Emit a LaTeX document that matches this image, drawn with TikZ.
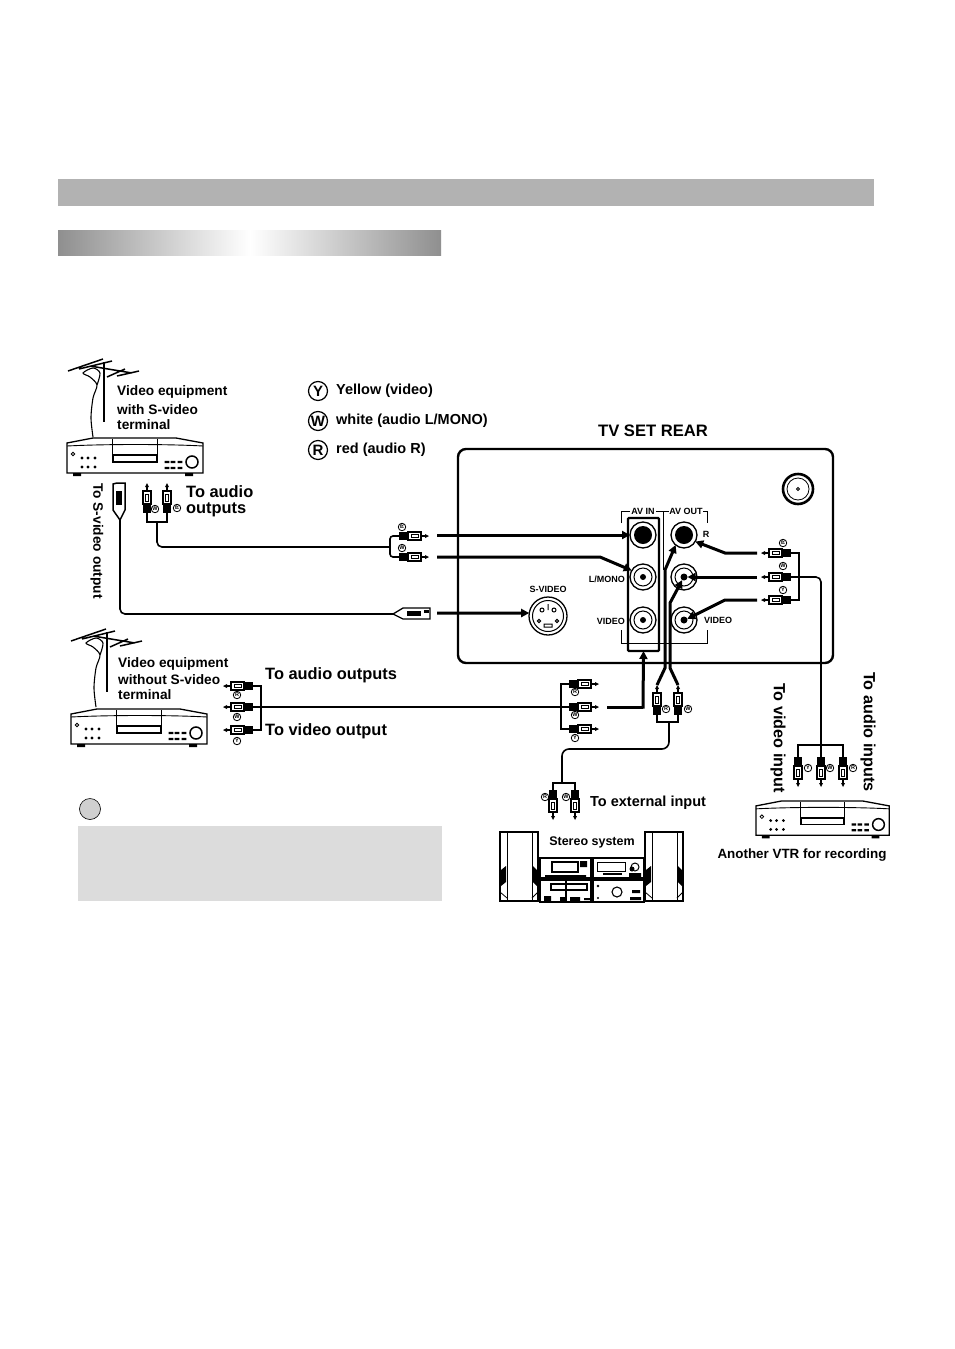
\documentclass[tikz,border=0pt]{standalone}
\usepackage{fontspec}
\setmainfont{Liberation Sans}
\usetikzlibrary{arrows.meta}
\definecolor{barg}{HTML}{B2B2B2}
\definecolor{gradg}{HTML}{8F8F8F}
\definecolor{noteg}{HTML}{DCDCDC}
\definecolor{dotg}{HTML}{D0D0D0}
\tikzset{
 lab/.style={inner sep=0pt,font=\bfseries\fontsize{13.7}{15}\selectfont,anchor=west},
 leg/.style={inner sep=0pt,font=\bfseries\fontsize{14.5}{16}\selectfont,anchor=west},
 big/.style={inner sep=0pt,font=\bfseries\fontsize{16.4}{18}\selectfont,anchor=west},
 mid/.style={inner sep=0pt,font=\bfseries\fontsize{16.2}{18}\selectfont,anchor=west},
 tiny/.style={inner sep=0pt,font=\bfseries\fontsize{9}{10}\selectfont},
 tag/.style={circle,draw,line width=.8pt,minimum size=7.5pt,inner sep=0pt,font=\bfseries\fontsize{5.5}{5.5}\selectfont},
 legend/.style={circle,draw,line width=1.2pt,minimum size=19pt,inner sep=0pt,font=\bfseries\fontsize{15}{15}\selectfont},
 jack/.style={circle,draw,line width=1.3pt,minimum size=26pt,inner sep=0pt,outer sep=0pt,fill=white},
 ring/.style={circle,draw,line width=1pt,minimum size=18pt,inner sep=0pt,outer sep=0pt},
 hole/.style={circle,fill=black,minimum size=6pt,inner sep=0pt,outer sep=0pt},
 plughole/.style={circle,fill=black,minimum size=18pt,inner sep=0pt,outer sep=0pt},
 wire/.style={line width=1.6pt,rounded corners=5pt},
 fat/.style={line width=3pt,-{Triangle[length=8pt,width=8pt]}},
 fatb/.style={line width=3pt,line join=miter},
 plug/.pic={
  \fill (0,0) -- (4,-2) -- (4,2) -- cycle;
  \fill (4,-1.3) rectangle (8,1.3);
  \draw[line width=1.2pt,fill=white] (8,-4) rectangle (21,4);
  \draw[line width=1pt] (11,-1.7) rectangle (18,1.7);
  \fill (21,-3.6) rectangle (30,3.6);
  \coordinate (-end) at (30,0);
  \coordinate (-tip) at (0,0);
 },
 vcr/.pic={
  \draw[line width=1.3pt,fill=white] (1,5) -- (27,0) -- (110,0) -- (137,5) -- (137,35) -- (1,35) -- cycle;
  \draw[line width=.9pt] (1,8) .. controls (40,6) and (100,6) .. (137,8);
  \draw[line width=.9pt] (46,1) -- (46,17) (91,1) -- (91,17);
  \draw[line width=1.7pt] (47,17) rectangle (91,24);
  \fill (7,35) rectangle (15,38) (119,35) rectangle (127,38);
  \draw[line width=.8pt] (7,16) circle (1.8);
  \foreach \px in {16,22,29} {\fill (\px,20) circle (1.6) (\px,29) circle (1.6);}
  \foreach \px in {101,107,114} {\fill (\px-2.3,22.8) rectangle (\px+2.3,25) (\px-2.3,28.8) rectangle (\px+2.3,31);}
  \draw[line width=1.5pt] (126,24) circle (6);
 },
 aerial/.pic={
  \draw[line width=1.5pt] (-36,-51) -- (-1,-63) (-25,-53) -- (8,-61) (3,-45) -- (21,-53) (13,-46) -- (35,-51) (-14,-56) -- (28,-49);
  \draw[line width=1.7pt] (0,-60) -- (0,0);
  \draw[line width=1.1pt] plot[smooth] coordinates {(-11,15) (-13,-4) (-11,-24) (-7,-37) (-14,-45) (-21,-49) (-11,-54) (-4,-49) (-7,-37)};
 },
 speaker/.pic={
  \draw[line width=1.3pt,fill=white] (0,0) rectangle (38,69);
  \draw[line width=.8pt] (7,1) -- (7,68) (32,1) -- (32,68);
  \fill (1,38) -- (6,34) -- (6,50) -- (1,54) -- cycle;
  \fill (33,34) -- (37,38) -- (37,54) -- (33,50) -- cycle;
  \draw[line width=.8pt] (0,60) -- (7,66) (38,60) -- (32,66);
 },
}
\begin{document}
\begin{tikzpicture}[x=1pt,y=-1pt]
\useasboundingbox[fill=white] (0,0) rectangle (954,1349);
% header bars
\fill[barg] (58,179) rectangle (874,206);
\fill[left color=gradg,right color=white] (58,230) rectangle (250,255);
\fill[left color=white,right color=gradg] (250,230) rectangle (441,255);
% note
\fill[noteg] (78,826) rectangle (442,901);
\draw[line width=.6pt,fill=dotg] (90,809) circle (10.5);

% legend
\node[legend] (ly) at (318,391) {Y};
\node[legend] (lw) at (318,421) {W};
\node[legend] (lr) at (318,450) {R};
\node[leg] (lty) at (336,391) {Yellow (video)};
\node[leg] (ltw) at (336,421) {white (audio L/MONO)};
\node[leg] (ltr) at (336,450) {red (audio R)};
\node[inner sep=0pt,font=\bfseries\fontsize{16.6}{18}\selectfont] (tvt) at (653,431) {TV SET REAR};

% top-left equipment
\pic at (104,422) {aerial};
\pic at (66,438) {vcr};
\node[lab] (v1a) at (117,392) {Video equipment};
\node[lab] (v1b) at (117,410) {with S-video};
\node[lab] (v1c) at (117,425) {terminal};
\node[big] (ta1) at (186,492) {To audio};
\node[big] (ta2) at (186,510) {outputs};
\node[lab,rotate=-90] (tsv) at (97,483) {To S-video output};

% second equipment
\pic at (107,692) {aerial};
\pic at (70,709) {vcr};
\node[lab] (v2a) at (118,664) {Video equipment};
\node[lab] (v2b) at (118,680) {without S-video};
\node[lab] (v2c) at (118,695) {terminal};
\node[big] (tao) at (265,675) {To audio outputs};
\node[big] (tvo) at (265,731) {To video output};

% TV rear
\draw[line width=2.4pt,rounded corners=8pt] (458,449) rectangle (833,663);
\node[circle,draw,line width=2.6pt,minimum size=30pt,inner sep=0pt] (ant) at (798,489) {};
\node[circle,draw,line width=.8pt,minimum size=22pt,inner sep=0pt] (antr) at (798,489) {};
\node[circle,draw,line width=.8pt,minimum size=3pt,inner sep=0pt] (antc) at (798,489) {};
% brackets
\draw[line width=1pt] (621,523) -- (621,511) -- (630,511) (656,511) -- (671,511) (702,511) -- (707,511) -- (707,523);
\draw[line width=1pt] (621,630) -- (621,643) -- (707,643) -- (707,630);
\draw[line width=1pt] (663,511) -- (663,570);
\node[tiny,fill=white] (avin) at (643,511) {AV IN};
\node[tiny,fill=white] (avout) at (686,511) {AV OUT};
\node[draw,line width=2.4pt,minimum width=31pt,minimum height=133pt,inner sep=0pt,outer sep=0pt,rounded corners=1pt] (box) at (643.5,584.5) {};
% jacks
\node[jack] (ji1) at (643,535) {};
\node[plughole] (ji1h) at (643,535) {};
\node[jack] (ji2) at (643,577) {};
\node[ring] (ji2r) at (643,577) {};
\node[hole] (ji2h) at (643,577) {};
\node[jack] (ji3) at (643,620) {};
\node[ring] (ji3r) at (643,620) {};
\node[hole] (ji3h) at (643,620) {};
\node[jack] (jo1) at (684,535) {};
\node[plughole] (jo1h) at (684,535) {};
\node[jack] (jo2) at (684,577) {};
\node[ring] (jo2r) at (684,577) {};
\node[hole,minimum size=7pt] (jo2h) at (684,577) {};
\node[jack] (jo3) at (684,620) {};
\node[ring] (jo3r) at (684,620) {};
\node[hole,minimum size=7pt] (jo3h) at (684,620) {};
\node[tiny] (lblr) at (706,534) {R};
\node[tiny,anchor=east] (lbll) at (625,579) {L/MONO};
\node[tiny,anchor=east] (lblv) at (625,621) {VIDEO};
\node[tiny,anchor=west] (lblv2) at (704,620) {VIDEO};
% S-video socket
\node[circle,draw,line width=1.3pt,minimum size=38pt,inner sep=0pt,outer sep=0pt] (sv) at (548,616) {};
\node[circle,draw,line width=1pt,minimum size=31pt,inner sep=0pt] (svr) at (548,616) {};
\draw[line width=1pt] (542,610) circle (2) (554,610) circle (2) (539,621) circle (1.6) (557,621) circle (1.6) (548,604) -- (548,610) (544,624) rectangle (552,627);
\node[tiny] (svt) at (548,589) {S-VIDEO};

% top-left plugs
\pic[rotate=-90] (pa) at (147,483) {plug};
\pic[rotate=-90] (pb) at (167,483) {plug};
\draw[line width=1.5pt,fill=white] (113,496) -- (113,484) -- (117,483) -- (125,483) -- (125,510) -- (120,520) -- (113,510) -- cycle;
\fill (116,491) rectangle (122,505);
\coordinate (svplugend) at (120,520);
\node[tag] (t1) at (155,509) {W};
\node[tag,rotate=90] (t2) at (177,508) {R};
\draw[line width=1.6pt] (pa-end) |- (157,522) -| (pb-end);
% plugs near TV left
\pic[rotate=180] (pc) at (429,536) {plug};
\pic[rotate=180] (pd) at (429,557) {plug};
\node[tag,rotate=90] (t3) at (402,527) {R};
\node[tag] (t4) at (402,548) {W};
\draw[wire,rounded corners=3pt] (pc-end) -- (390,536) -- (390,557) -- (pd-end);
\draw[wire] (157,522) -- (157,547) -- (390,547);
\draw[line width=1.3pt,fill=white] (393,614) -- (403,608) -- (430,608) -- (430,619) -- (403,619) -- cycle;
\fill (407,611) rectangle (421,616);
\fill (424,610) rectangle (429,613);
\coordinate (svplugin) at (393,614);
\draw[wire] (svplugend) -- (120,614) -- (svplugin);
% fat arrows into TV
\coordinate (a1) at (437,535);
\coordinate (a2) at (437,557);
\coordinate (a3) at (437,613);
\draw[fat] (a1) -- (ji1.west);
\draw[fat] (a2) -- (600,557) -- (ji2.150);
\draw[fat] (a3) -- (sv.171);

% second row plugs (left)
\pic (pe) at (223,686) {plug};
\pic (pf) at (223,707) {plug};
\pic (pg) at (223,730) {plug};
\draw[line width=1.6pt] (pe-end) -- (261,686) -- (261,730) -- (pg-end);
\node[tag] (t5) at (237,695) {R};
\node[tag] (t6) at (237,717) {W};
\node[tag] (t7) at (237,741) {Y};
% middle plugs
\pic[rotate=180] (ph) at (599,684) {plug};
\pic[rotate=180] (pi) at (599,707) {plug};
\pic[rotate=180] (pj) at (599,729) {plug};
\draw[line width=1.6pt] (ph-end) -- (561,684) -- (561,729) -- (pj-end);
\draw[line width=2pt] (pf-end) -- (pi-end);
\node[tag] (t8) at (575,692) {R};
\node[tag] (t9) at (575,715) {W};
\node[tag] (t10) at (575,738) {Y};
\coordinate (b1) at (607,707);
\draw[fatb] (b1) -- (643,707);
\draw[fat] (643,708.5) -- (box.south);

% stereo feed
\pic[rotate=-90] (pk) at (657,685) {plug};
\pic[rotate=-90] (pl) at (678,685) {plug};
\draw[fat] (pk-tip) -- (665,668) -- (665,570) -- (jo1.-130);
\draw[fat] (pl-tip) -- (670,668) -- (670,603) -- (jo2h.-120);
\node[tag] (t11) at (666,709) {R};
\node[tag] (t12) at (688,709) {W};
\draw[line width=1.6pt] (pk-end) -- (657,722) -- (678,722) -- (pl-end);
\pic[rotate=90] (pm) at (553,820) {plug};
\pic[rotate=90] (pn) at (575,820) {plug};
\draw[line width=1.6pt] (pm-end) -- (553,783) -- (575,783) -- (pn-end);
\draw[wire,rounded corners=7pt] (669,722) -- (669,749) -- (562,749) -- (562,783);
\node[tag] (t13) at (545,797) {R};
\node[tag] (t14) at (566,797) {W};
\node[leg] (tei) at (590,803) {To external input};
\node[inner sep=0pt,font=\bfseries\fontsize{12.5}{14}\selectfont] (sst) at (592,842) {Stereo system};
% stereo system
\pic at (500,832) {speaker};
\pic at (645,832) {speaker};
\draw[line width=1.2pt] (540,858) rectangle (591,878) (593,858) rectangle (644,878);
\draw[line width=1.2pt] (540,880) rectangle (591,902) (593,880) rectangle (644,902);
\draw[line width=1.2pt] (552,862) rectangle (578,872) (555,872) -- (575,872);
\fill (580,861) rectangle (587,867) (545,875) rectangle (586,877);
\draw[line width=1pt] (597,862) rectangle (625,871);
\fill (603,873) rectangle (622,875);
\draw[line width=1pt] (635,867) circle (4);
\fill (632,869) circle (2.5) (629,873) rectangle (641,877);
\draw[line width=1.2pt] (551,884) rectangle (587,890) (566,880) -- (566,902);
\fill (544,896) rectangle (551,901) (560,897) rectangle (566,901) (570,897) rectangle (580,901) (584,898) rectangle (590,900);
\draw[line width=1.1pt] (617,892) circle (5);
\fill (598,886) circle (1.4) (598,898) circle (1.2) (632,890) rectangle (640,893) (630,897) rectangle (641,900);

% right side plugs
\pic (po) at (761,553) {plug};
\pic (pp) at (761,577) {plug};
\pic (pq) at (761,600) {plug};
\draw[line width=1.6pt] (po-end) -- (799,553) -- (799,600) -- (pq-end);
\node[tag,rotate=90] (t15) at (783,543) {R};
\node[tag] (t16) at (783,566) {W};
\node[tag] (t17) at (783,590) {Y};
\coordinate (c1) at (757,553);
\coordinate (c2) at (757,577);
\coordinate (c3) at (757,600);
\draw[fat] (c1) -- (725,553) -- (jo1.-30);
\draw[fat] (c2) -- (jo2h.east);
\draw[fat] (c3) -- (725,600) -- (jo3h.20);
% lower-right plugs
\pic[rotate=90] (pr) at (798,787) {plug};
\pic[rotate=90] (ps) at (821,787) {plug};
\pic[rotate=90] (pt) at (843,787) {plug};
\draw[line width=1.6pt] (pr-end) -- (798,745) -- (843,745) -- (pt-end);
\draw[wire] (pp-end) -- (821,577) -- (ps-end);
\node[tag] (t18) at (808,768) {Y};
\node[tag] (t19) at (830,768) {W};
\node[tag] (t20) at (853,768) {R};
\node[mid,rotate=-90] (tvi) at (778,683) {To video input};
\node[mid,rotate=-90] (tai) at (868,672) {To audio inputs};
\pic[scale=.98] at (755,801) {vcr};
\node[inner sep=0pt,font=\bfseries\fontsize{13.4}{15}\selectfont] (ovt) at (802,855) {Another VTR for recording};
\end{tikzpicture}
\end{document}
